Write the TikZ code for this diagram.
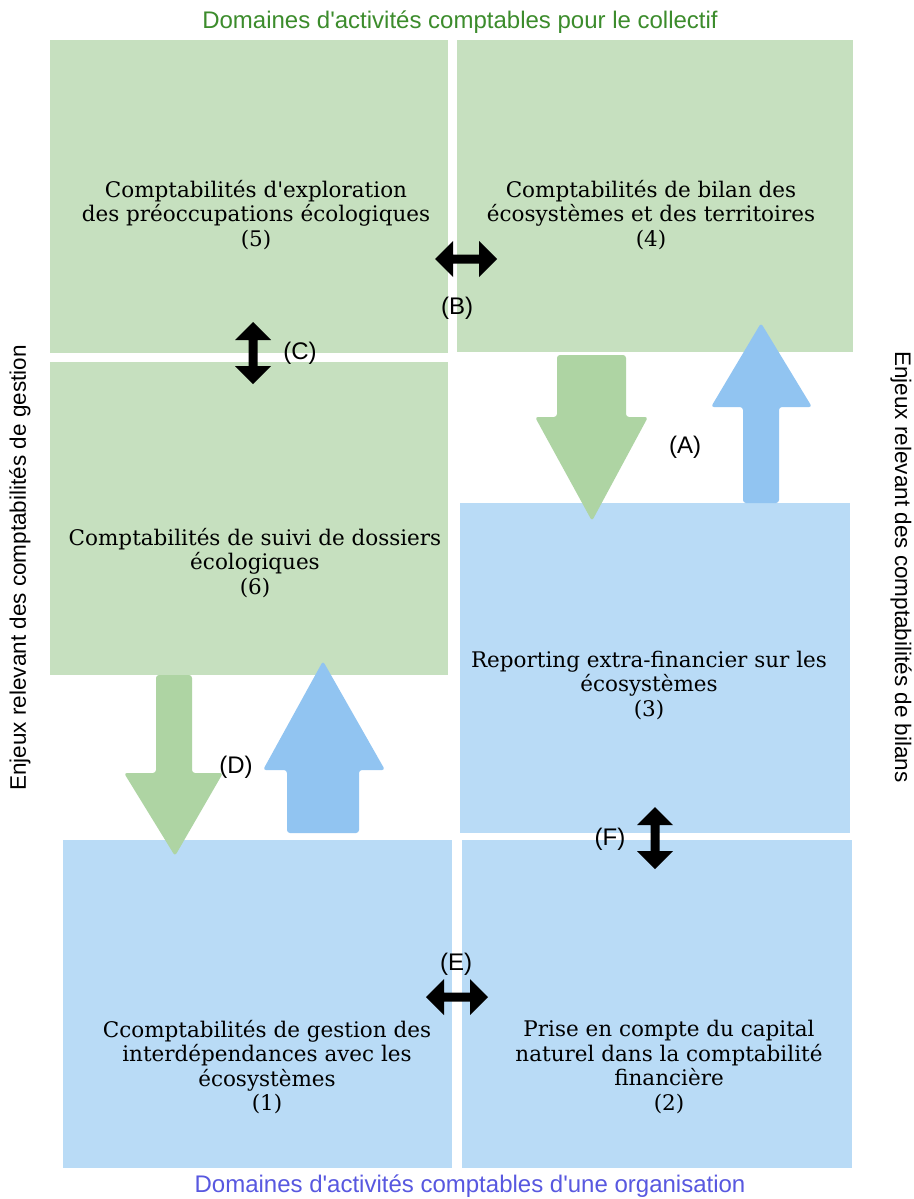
\documentclass[tikz,border=0pt]{standalone}
\usepackage{fontspec}
\setmainfont{DejaVu Serif}[Ligatures=TeXOff]
\setsansfont{Liberation Sans}[Ligatures=TeXOff]
\definecolor{boxgreen}{HTML}{C6E0BF}
\definecolor{boxblue}{HTML}{B9DBF6}
\definecolor{arrgreen}{HTML}{AED4A3}
\definecolor{arrblue}{HTML}{91C4F1}
\definecolor{titlegreen}{HTML}{3C8C2C}
\definecolor{titleblue}{HTML}{5858E0}
\tikzset{
  boxtext/.style={align=center,font=\fontsize{21.5}{24.5}\selectfont,inner sep=0pt},
  sidetext/.style={font=\sffamily\fontsize{22.5}{26}\selectfont,inner sep=0pt},
  titletext/.style={font=\sffamily\fontsize{24}{26}\selectfont,inner sep=0pt},
  lbl/.style={font=\sffamily\fontsize{24}{26}\selectfont,inner sep=0pt},
  dblarrow/.pic={\fill[black] (-31,0) -- (-13,-18) -- (-13,-4.5) -- (13,-4.5) -- (13,-18) -- (31,0) -- (13,18) -- (13,4.5) -- (-13,4.5) -- (-13,18) -- cycle;},
  bigarrow/.style={rounded corners=3pt}
}
\begin{document}
\begin{tikzpicture}[x=1pt,y=-1pt]
\useasboundingbox (0,0) rectangle (913,1199);
\fill[white] (0,0) rectangle (913,1199);
% boxes
\fill[boxgreen] (50,40) rectangle (448,353);
\fill[boxgreen] (457,40) rectangle (853,352);
\fill[boxgreen] (50,362) rectangle (448,675);
\fill[boxblue] (460,503) rectangle (850,833);
\fill[boxblue] (63,840) rectangle (452,1168);
\fill[boxblue] (462,840) rectangle (852,1168);
% box texts
\node[boxtext] (t5) at (256,215) {Comptabilités d'exploration\\des préoccupations écologiques\\(5)};
\node[boxtext] (t4) at (651,215) {Comptabilités de bilan des\\écosystèmes et des territoires\\(4)};
\node[boxtext] (t6) at (255,563) {Comptabilités de suivi de dossiers\\écologiques\\(6)};
\node[boxtext] (t3) at (649,685) {Reporting extra-financier sur les\\écosystèmes\\(3)};
\node[boxtext] (t1) at (267,1067) {Ccomptabilités de gestion des\\interdépendances avec les\\écosystèmes\\(1)};
\node[boxtext] (t2) at (669,1067) {Prise en compte du capital\\naturel dans la comptabilité\\financière\\(2)};
% big arrows
\fill[arrgreen,bigarrow] (557,355) -- (626,355) -- (626,417) -- (648,417) -- (592,521) -- (535,417) -- (557,417) -- cycle;
\fill[arrblue,bigarrow] (743,503) -- (743,407) -- (711,407) -- (761,323) -- (812,407) -- (779,407) -- (779,503) -- cycle;
\fill[arrgreen,bigarrow] (156,675) -- (192,675) -- (192,773) -- (223,773) -- (175,856) -- (124,773) -- (156,773) -- cycle;
\fill[arrblue,bigarrow] (287,833) -- (287,770) -- (263,770) -- (323,661) -- (385,770) -- (359,770) -- (359,833) -- cycle;
% double arrows
\pic at (466,259) {dblarrow};
\pic at (457,997) {dblarrow};
\pic[rotate=90] at (253,353) {dblarrow};
\pic[rotate=90] at (655,838) {dblarrow};
% labels
\node[lbl] (la) at (685,447) {(A)};
\node[lbl] (lb) at (457,308) {(B)};
\node[lbl] (lc) at (300,353) {(C)};
\node[lbl] (ld) at (236,767) {(D)};
\node[lbl] (le) at (456,964) {(E)};
\node[lbl] (lf) at (610,839) {(F)};
% titles
\node[titletext,text=titlegreen] (top) at (460,22) {Domaines d'activités comptables pour le collectif};
\node[titletext,text=titleblue] (bot) at (470,1186) {Domaines d'activités comptables d'une organisation};
\node[sidetext,rotate=90] (left) at (20,568) {Enjeux relevant des comptabilités de gestion};
\node[sidetext,rotate=-90] (right) at (901,567) {Enjeux relevant des comptabilités de bilans};
\end{tikzpicture}
\end{document}
